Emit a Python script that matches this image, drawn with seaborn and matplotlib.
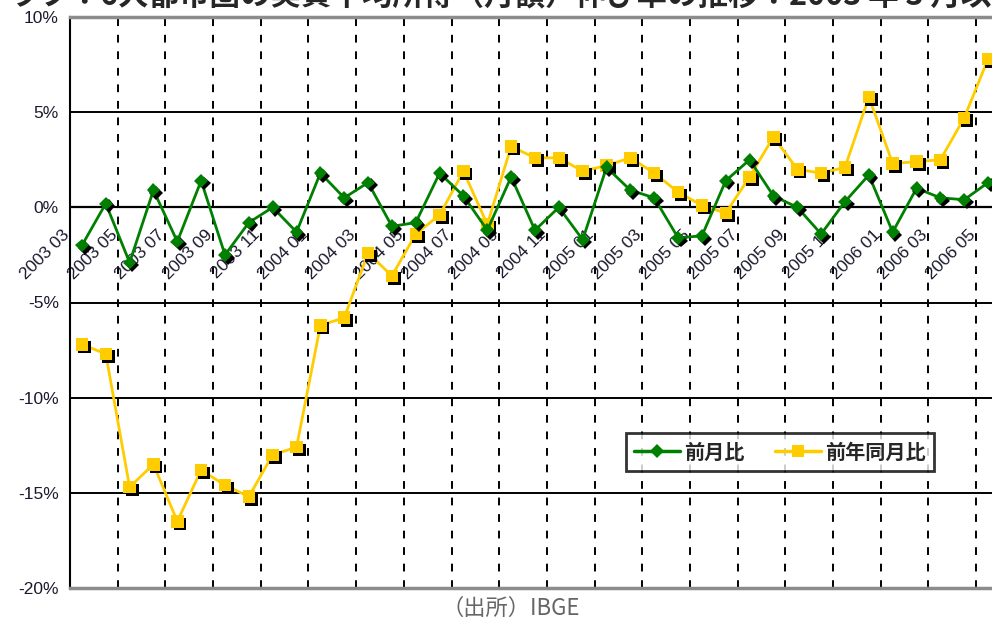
import numpy as np
import pandas as pd
import matplotlib.pyplot as plt
import matplotlib.patheffects as pe
from matplotlib.transforms import offset_copy
from matplotlib.lines import Line2D
import seaborn as sns

# months on the category axis (2003/03 - 2006/05)
months = ["2003 03", "2003 04", "2003 05", "2003 06", "2003 07", "2003 08", "2003 09", "2003 10",
          "2003 11", "2003 12", "2004 01", "2004 02", "2004 03", "2004 04", "2004 05", "2004 06",
          "2004 07", "2004 08", "2004 09", "2004 10", "2004 11", "2004 12", "2005 01", "2005 02",
          "2005 03", "2005 04", "2005 05", "2005 06", "2005 07", "2005 08", "2005 09", "2005 10",
          "2005 11", "2005 12", "2006 01", "2006 02", "2006 03", "2006 04", "2006 05"]

# 前月比 (%)
mom = [-2.0, 0.2, -2.9, 0.9, -1.8, 1.4, -2.5, -0.8, 0.0, -1.3, 1.8, 0.5, 1.3, -1.0, -0.8, 1.8,
       0.6, -1.2, 1.6, -1.2, 0.0, -1.7, 2.1, 0.9, 0.5, -1.6, -1.5, 1.4, 2.5, 0.6, 0.0, -1.4,
       0.3, 1.7, -1.3, 1.0, 0.5, 0.4, 1.3]

# 前年同月比 (%)
yoy = [-7.2, -7.7, -14.7, -13.5, -16.5, -13.8, -14.6, -15.2, -13.0, -12.6, -6.2, -5.8, -2.4,
       -3.6, -1.4, -0.4, 1.9, -0.9, 3.2, 2.6, 2.6, 1.9, 2.2, 2.6, 1.8, 0.8, 0.1, -0.3, 1.6,
       3.7, 2.0, 1.8, 2.1, 5.8, 2.3, 2.4, 2.5, 4.7, 7.8]

names = ["前月比", "前年同月比"]
title = "グラフ：6大都市圏の実質平均所得（月額）伸び率の推移：2003 年 3 月以降"
source = "（出所）IBGE"

df = pd.DataFrame({"idx": np.arange(len(months)), "month": months, "mom": mom, "yoy": yoy})

sns.set_style("white")
plt.rcParams['font.family'] = ['Liberation Sans', 'Noto Sans CJK JP', 'DejaVu Sans']
cjk = ['Noto Sans CJK JP', 'DejaVu Sans']

GREEN = "#008000"
YELLOW = "#FFCC00"

fig = plt.figure(figsize=(9.92, 6.21), dpi=100)
ax = fig.add_axes([70 / 992, 33 / 621, 930 / 992, 571 / 621])

shadow = [pe.SimplePatchShadow(offset=(2, -2), shadow_rgbFace='k', alpha=1.0), pe.Normal()]

# lines
sns.lineplot(data=df, x="idx", y="mom", color=GREEN, lw=2, ax=ax, zorder=4)
sns.lineplot(data=df, x="idx", y="yoy", color=YELLOW, lw=2, ax=ax, zorder=3)
# markers with excel-like drop shadow
sns.lineplot(data=df, x="idx", y="yoy", color=YELLOW, linestyle='', marker='s', markersize=9,
             markeredgewidth=0, ax=ax, zorder=3.5, path_effects=shadow)
sns.lineplot(data=df, x="idx", y="mom", color=GREEN, linestyle='', marker='D', markersize=7,
             markeredgewidth=0, ax=ax, zorder=4.5, path_effects=shadow)

ax.set_xlim(-0.5, len(months) - 0.5)
ax.set_ylim(-20, 10)

# horizontal gridlines + dashed vertical separators every 2 months
ax.set_yticks(range(-20, 11, 5))
ax.set_yticklabels([f"{v}%" for v in range(-20, 11, 5)], fontsize=12.5, color='#1a1a2e')
ax.set_xticks(np.arange(1.5, len(months) - 1, 2))
ax.set_xticklabels([])
ax.tick_params(axis='x', length=0)
ax.tick_params(axis='y', length=5, width=1.5, color='k', direction='out', pad=3)
ax.yaxis.grid(True, color='k', lw=1.4)
ax.xaxis.grid(True, color='k', lw=1.4, linestyle=(0, (4, 4.5)))
ax.set_axisbelow(True)
ax.set_xlabel("")
ax.set_ylabel("")

for s in ['top', 'bottom']:
    ax.spines[s].set_color('#8c8c8c')
    ax.spines[s].set_linewidth(2.5)
ax.spines['left'].set_color('k')
ax.spines['left'].set_linewidth(1.5)
ax.spines['right'].set_visible(False)
ax.axhline(0, color='k', lw=1.6, zorder=2)

# category labels sit under the 0% line, rotated like excel
trans = offset_copy(ax.transData, fig=fig, x=-37, y=-47, units='dots')
for i in range(0, len(months), 2):
    ax.text(df["idx"][i], 0, months[i], rotation=45, ha='center', va='center',
            rotation_mode='anchor', transform=trans, fontsize=12.5, color='#1a1a2e', zorder=1)

handles = [Line2D([], [], color=GREEN, lw=2.5, marker='D', markersize=7, markeredgewidth=0),
           Line2D([], [], color=YELLOW, lw=2.5, marker='s', markersize=9, markeredgewidth=0)]
leg = fig.legend(handles, names, loc='center', bbox_to_anchor=(780 / 992, 1 - 452 / 621),
                 ncol=2, frameon=True, fancybox=False, edgecolor='k', handlelength=2.3,
                 handletextpad=0.2, columnspacing=1.5, borderpad=0.4,
                 prop={'family': cjk, 'weight': 'bold', 'size': 14.5})
leg.get_frame().set_linewidth(2)

fig.text(-22 / 992, 1 + 4 / 621, title, ha='left', va='center', fontsize=22,
         fontweight='bold', family=cjk)
fig.text(511 / 992, 1 - 608 / 621, source, ha='center', va='center', fontsize=16,
         color='#666666', family=cjk)

fig.savefig("out.png", dpi=100)
